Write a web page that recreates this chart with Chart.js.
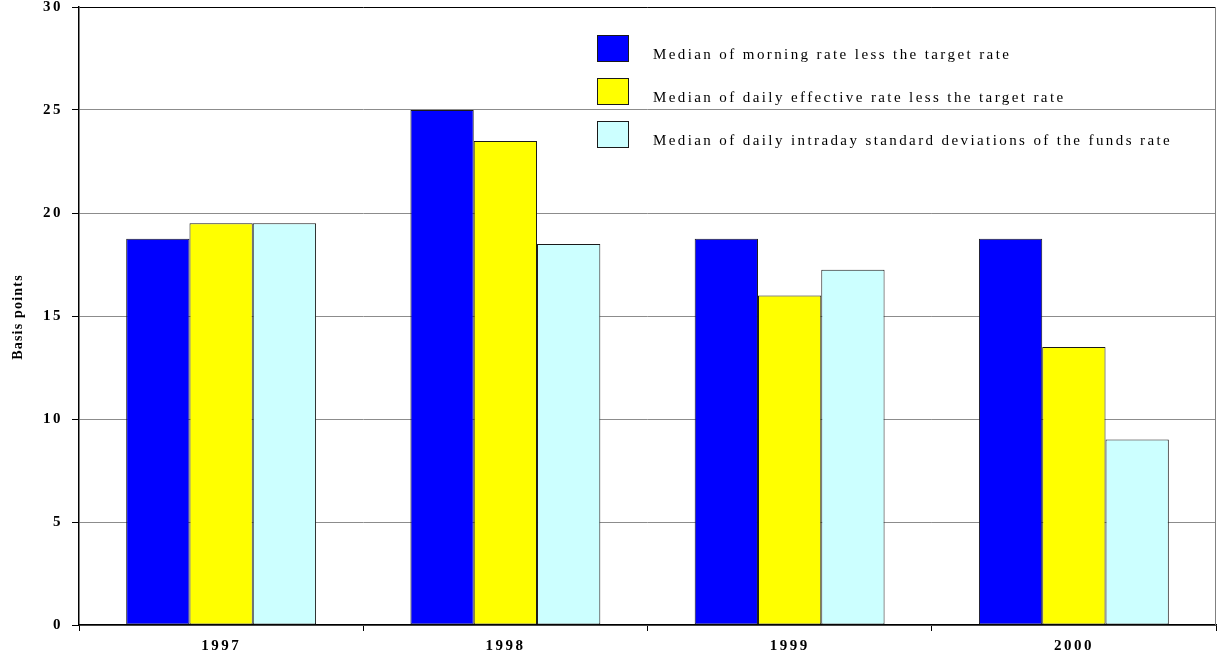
<!DOCTYPE html>
<html>
<head>
<meta charset="utf-8">
<script src="https://cdn.jsdelivr.net/npm/chart.js@4.4.1/dist/chart.umd.min.js"></script>
<style>
  html, body { margin: 0; padding: 0; background: #fff; }
  #wrap { width: 1220px; height: 663px; }
</style>
</head>
<body>
<div id="wrap"><canvas id="c" width="1220" height="663"></canvas></div>
<script>
// Years on the category axis
const categories = ['1997', '1998', '1999', '2000'];

// Median spreads, basis points
const morningLessTarget   = [18.75, 25, 18.75, 18.75];
const effectiveLessTarget = [19.5, 23.5, 16, 13.5];
const intradayStdDev      = [19.5, 18.5, 17.25, 9];

const seriesLabels = [
  'Median of morning rate less the target rate',
  'Median of daily effective rate less the target rate',
  'Median of daily intraday standard deviations of the funds rate'
];
const seriesColors = ['#0000FF', '#FFFF00', '#CCFFFF'];

// Value axis range and tick step
const yMin = 0;
const yMax = 30;
const yStep = 5;
const yTitle = 'Basis points';

const SERIF = '"Liberation Serif", "Times New Roman", serif';

// Letter spacing for axis labels (set on the context before drawing)
const spacingPlugin = {
  id: 'spacing',
  beforeDraw(chart) {
    chart.ctx.letterSpacing = '2.5px';
  }
};

// Frame lines, rotated axis title and the boxed legend inside the plot
const decorPlugin = {
  id: 'decor',
  afterDraw(chart) {
    const ctx = chart.ctx;
    const a = chart.chartArea;
    ctx.save();
    // right frame edge
    ctx.strokeStyle = '#808080';
    ctx.lineWidth = 1;
    ctx.beginPath();
    ctx.moveTo(a.right - 0.5, a.top);
    ctx.lineTo(a.right - 0.5, a.bottom);
    ctx.stroke();

    // y-axis title
    ctx.letterSpacing = '1.2px';
    ctx.fillStyle = '#000';
    ctx.font = 'bold 14px ' + SERIF;
    ctx.textAlign = 'center';
    ctx.textBaseline = 'middle';
    ctx.translate(18, (a.top + a.bottom) / 2 + 1);
    ctx.rotate(-Math.PI / 2);
    ctx.fillText(yTitle, 0, 0);
    ctx.restore();

    // legend
    ctx.save();
    ctx.letterSpacing = '2.4px';
    ctx.font = '15px ' + SERIF;
    ctx.textAlign = 'left';
    ctx.textBaseline = 'alphabetic';
    const boxX = 597, boxW = 32, boxH = 27, rowTop = 35, rowStep = 43, textX = 653;
    chart.data.datasets.forEach((ds, i) => {
      const y = rowTop + i * rowStep;
      ctx.fillStyle = ds.backgroundColor;
      ctx.fillRect(boxX, y, boxW, boxH);
      ctx.strokeStyle = '#1a1a1a';
      ctx.lineWidth = 1;
      ctx.strokeRect(boxX + 0.5, y + 0.5, boxW - 1, boxH - 1);
      ctx.fillStyle = '#000';
      ctx.fillText(ds.label, textX, y + boxH - 3);
    });
    ctx.restore();
  }
};

const seriesValues = [morningLessTarget, effectiveLessTarget, intradayStdDev];

new Chart(document.getElementById('c'), {
  type: 'bar',
  data: {
    labels: categories,
    datasets: seriesValues.map((vals, i) => ({
      label: seriesLabels[i],
      data: vals,
      backgroundColor: seriesColors[i],
      borderColor: '#1a1a1a',
      borderWidth: 1,
      borderSkipped: false,
      barPercentage: 1,
      categoryPercentage: 0.668
    }))
  },
  options: {
    responsive: false,
    devicePixelRatio: 1,
    animation: false,
    layout: { padding: { top: 7, right: 4, left: 0, bottom: 0 } },
    plugins: {
      legend: { display: false },
      tooltip: { enabled: false }
    },
    scales: {
      x: {
        offset: true,
        grid: {
          offset: true,
          drawOnChartArea: false,
          drawTicks: true,
          tickLength: 6,
          tickColor: '#000'
        },
        border: { color: '#000', width: 1.5 },
        ticks: {
          color: '#000',
          padding: 6,
          font: { family: SERIF, size: 15, weight: 'bold' }
        },
        afterFit(scale) {
          scale.height = 38;
          scale.paddingLeft = 0;
          scale.paddingRight = 0;
        }
      },
      y: {
        min: yMin,
        max: yMax,
        grid: {
          color: (c) => (c.tick && c.tick.value === yMax ? '#000' : '#8c8c8c'),
          lineWidth: 1,
          tickLength: 7,
          tickColor: '#000'
        },
        border: { color: '#000', width: 1.5 },
        ticks: {
          stepSize: yStep,
          color: '#000',
          padding: 9,
          font: { family: SERIF, size: 15, weight: 'bold' }
        },
        afterFit(scale) {
          scale.width = 79;
          scale.paddingTop = 0;
          scale.paddingBottom = 0;
        }
      }
    }
  },
  plugins: [spacingPlugin, decorPlugin]
});
</script>
</body>
</html>
